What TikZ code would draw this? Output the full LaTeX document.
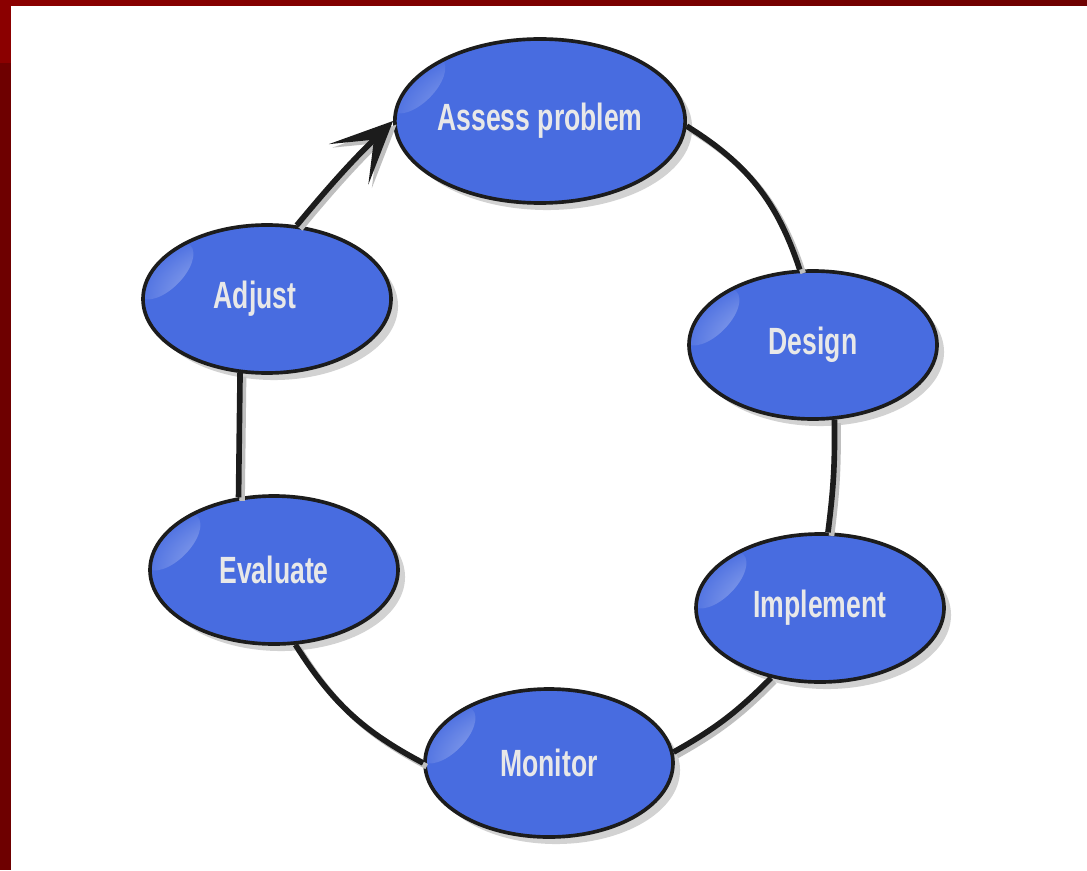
\documentclass[tikz,border=0pt]{standalone}
\usepackage{fontspec}
\usetikzlibrary{shapes.geometric,shadows,arrows.meta}
\newfontfamily\phasefont[FakeStretch=0.7]{Liberation Sans}
\definecolor{slideframe}{RGB}{139,0,0}
\definecolor{slideframedark}{RGB}{110,0,0}
\definecolor{phaseblue}{RGB}{72,108,224}
\definecolor{phaseedge}{RGB}{28,28,28}
\definecolor{phasetext}{RGB}{232,232,232}

\begin{document}
\begin{tikzpicture}[
  phase/.style={ellipse, draw=phaseedge, line width=2.6pt, fill=phaseblue,
    minimum width=6.2cm, minimum height=3.7cm, inner sep=0pt, text=phasetext,
    font={\phasefont\bfseries\fontsize{27}{30}\selectfont},
    drop shadow={shadow xshift=5pt, shadow yshift=-5pt, opacity=0.35},
    path picture={\shade[inner color=white!75!phaseblue, outer color=phaseblue]
      ([shift={(0.55cm,-1.15cm)}]path picture bounding box.north west)
      ellipse [x radius=0.45cm, y radius=0.9cm, rotate=-45];}},
  link/.style={line width=4pt, draw=phaseedge,
    preaction={draw=black!25, line width=4pt, transform canvas={xshift=2.5pt, yshift=-2.5pt}}},
  bigtip/.tip={Stealth[length=44pt, width=40pt, inset=25pt]}
]
  \useasboundingbox (0,0) rectangle (27.175,21.75);
  \fill[white] (0,0) rectangle (27.175,21.75);
  \shade[left color=slideframe, right color=slideframedark] (0,21.6) rectangle (27.175,21.75);
  \fill[slideframe] (0,20.175) rectangle (0.275,21.75);
  \fill[slideframedark] (0,0) rectangle (0.275,20.175);

  \node[phase, minimum width=6.75cm, minimum height=4.1cm] (assess) at (13.5,18.725) {Assess problem};
  \node[phase] (design) at (20.325,13.125) {Design};
  \node[phase] (implement) at (20.5,6.55) {Implement};
  \node[phase] (monitor) at (13.725,2.675) {Monitor};
  \node[phase] (evaluate) at (6.85,7.5) {Evaluate};
  \node[phase] (adjust) at (6.675,14.275) {\hspace*{-0.6cm}Adjust};

  \foreach \from/\to/\bend in {assess.-2/design.100/20, design.-74/implement.84/4,
    implement.-125/monitor.5/8, monitor.180/evaluate.-74/15, evaluate.116/adjust.-110/0} {
    \draw[link] (\from) to[bend left=\bend] (\to);
  }
  \draw[link, -bigtip] (adjust.68) to[bend left=3] (assess.180);
\end{tikzpicture}
\end{document}
